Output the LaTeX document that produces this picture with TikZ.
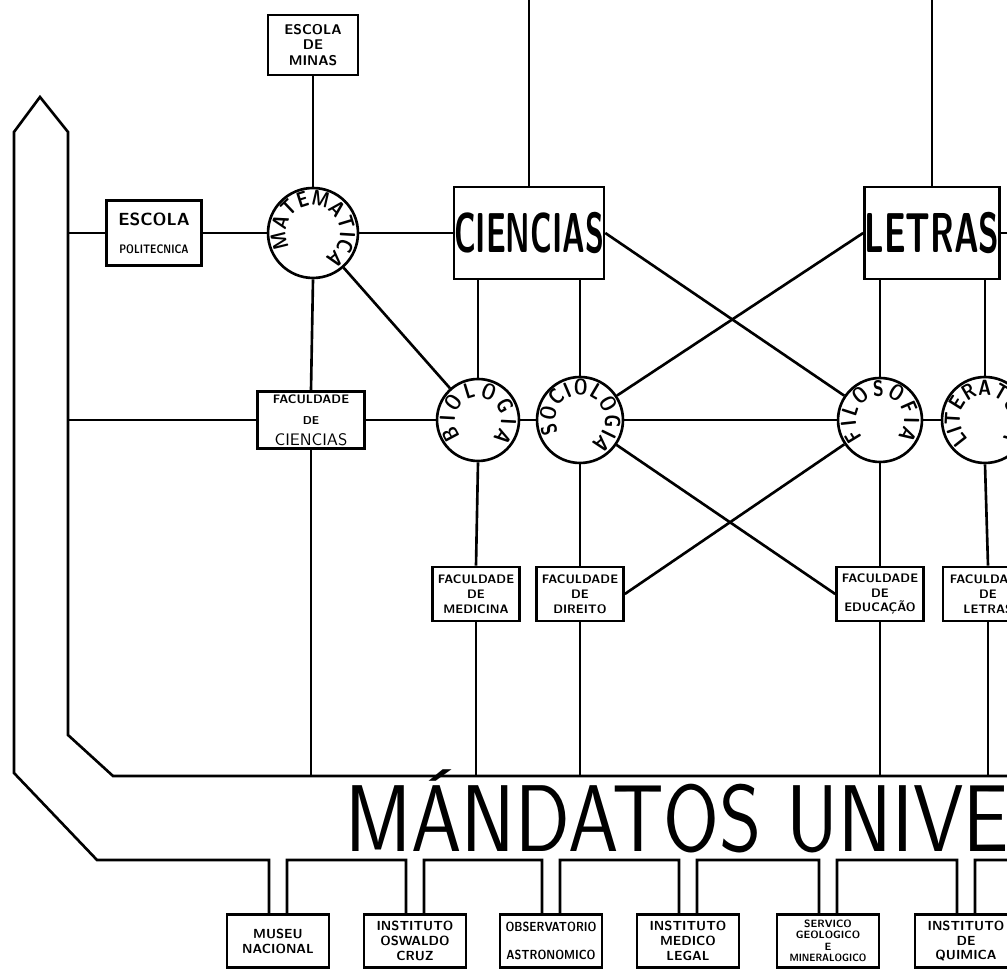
\documentclass[tikz,border=0pt]{standalone}
\usepackage{fontspec}
\usepackage{graphicx}
\usetikzlibrary{calc,decorations.text}

\newfontfamily\ringfam{lmsans10-bold.otf}[FakeStretch=0.8]
\newcommand\ringfont{\ringfam\fontsize{12.5}{12.5}\selectfont}

\begin{document}
\begin{tikzpicture}[x=0.02cm, y=0.02cm,
    link/.style={line width=1.5pt},
    inst/.style={draw, line width=1.5pt, fill=white, inner sep=1pt,
                 minimum width=2.04cm, minimum height=1.06cm, align=center,
                 font=\sffamily\bfseries\fontsize{7.5}{8.5}\selectfont},
    fac/.style={draw, line width=1.5pt, fill=white, inner sep=1pt,
                minimum width=1.74cm, minimum height=1.08cm, align=center,
                font=\sffamily\bfseries\fontsize{7}{8.5}\selectfont},
    area/.style={draw, line width=1.5pt, minimum width=2.76cm,
                 minimum height=1.84cm, inner sep=0pt,
                 font=\sffamily\bfseries\fontsize{32}{32}\selectfont},
    subject/.style={draw, circle, line width=1.5pt, inner sep=0pt},
    ring/.style={decorate, decoration={text along path, text align={fit to path}}},
]
\useasboundingbox (0,0) rectangle (1007,970);
\clip (0,0) rectangle (1007,970);

% === Helper points ===
\coordinate (top) at (0,970);
\coordinate (redge) at (1012,0);
\coordinate (leftbar) at (68,500);
\coordinate (bandtop) at (113,194);

% === Upper row ===
\node[draw, line width=1.5pt, minimum width=1.8cm, minimum height=1.2cm, align=center,
      font=\sffamily\bfseries\fontsize{8}{9}\selectfont] (minas) at (313,925) {ESCOLA\\DE\\MINAS};
\node[draw, line width=1.5pt, minimum width=1.9cm, minimum height=1.3cm, align=center,
      inner sep=1pt] (poli) at (154,737)
  {\sffamily\bfseries\fontsize{10}{12}\selectfont ESCOLA\\[4pt]
   \sffamily\bfseries\fontsize{7}{7}\selectfont\scalebox{0.8}[1]{POLITECNICA}};
\node[subject, minimum size=1.8cm] (mat) at (313,737) {};
\node[area] (cien) at (529,737) {\scalebox{0.55}[1]{CIENCIAS}};
\node[area, minimum width=2.7cm] (letras) at (932,737) {\scalebox{0.6}[1]{LETRAS}};

% === Middle row ===
\node[draw, line width=1.5pt, minimum width=2.14cm, minimum height=1.14cm, align=center,
      inner sep=1pt] (facc) at (311,550)
  {\sffamily\bfseries\fontsize{7}{8}\selectfont FACULDADE\\
   \sffamily\bfseries\fontsize{6.5}{7}\selectfont DE\\
   \sffamily\fontsize{9.5}{10.5}\selectfont CIENCIAS};
\node[subject, minimum size=1.64cm] (bio) at (478,550) {};
\node[subject, minimum size=1.72cm] (soc) at (580,550) {};
\node[subject, minimum size=1.68cm] (filo) at (880,550) {};
\node[subject, minimum size=1.72cm] (lit) at (985,550) {};

% === Words round the circles ===
\path[ring, decoration={text={|\ringfont|MATEMATICA}}]
  (mat.center) ++(212:27) arc[start angle=212, end angle=-64, radius=27];
\path[ring, decoration={text={|\ringfont|BIOLOGIA}}]
  (bio.center) ++(224:23) arc[start angle=224, end angle=-50, radius=23];
\path[ring, decoration={text={|\ringfont|SOCIOLOGIA}}]
  (soc.center) ++(210:25) arc[start angle=210, end angle=-64, radius=25];
\path[ring, decoration={text={|\ringfont|FILOSOFIA}}]
  (filo.center) ++(224:24) arc[start angle=224, end angle=-44, radius=24];
\path[ring, decoration={text={|\ringfont|LITERATURA}}]
  (lit.center) ++(230:25) arc[start angle=230, end angle=-46, radius=25];

% === Faculties ===
\node[fac] (fmed) at (476,376) {FACULDADE\\DE\\MEDICINA};
\node[fac] (fdir) at (580,376) {FACULDADE\\DE\\DIREITO};
\node[fac] (fedu) at (880,376) {FACULDADE\\DE\\EDUCAÇÃO};
\node[fac, minimum width=1.8cm] (flet) at (988,376) {FACULDADE\\DE\\LETRAS};

% === Institutes ===
\node[inst] (mus) at (278,29) {MUSEU\\NACIONAL};
\node[inst] (osw) at (415,29) {INSTITUTO\\OSWALDO\\CRUZ};
\node[inst] (obs) at (551,29) {\scalebox{0.85}[1]{OBSERVATORIO}\\[7pt]\scalebox{0.85}[1]{ASTRONOMICO}};
\node[inst] (med) at (688,29) {INSTITUTO\\MEDICO\\LEGAL};
\node[inst, font=\sffamily\bfseries\fontsize{6}{6.5}\selectfont] (geo) at (828,29)
  {SERVICO\\GEOLOGICO\\E\\\scalebox{0.9}[1]{MINERALOGICO}};
\node[inst] (qui) at (966,29) {INSTITUTO\\DE\\QUIMICA};

% === Band ===
\draw[link] (1012,194) -- (bandtop) -- (68,235) -- (68,838) -- (40,873)
  -- (14,838) -- (14,197) -- (97,110)
  \foreach \x in {278,415,551,688,828,966} {
    -- (\x-9,110) -- (\x-9,55.5) (\x+9,55.5) -- (\x+9,110) }
  -- (1012,110);
\node[anchor=base west, inner sep=0pt, font=\sffamily\fontsize{54}{54}\selectfont]
  (mandatos) at (345,118) {\scalebox{0.85}[1]{MÁNDATOS UNIVERSITÁRIOS}};

% === Connectors ===
\draw[link] (cien.north) -- (cien.north |- top);
\draw[link] (letras.north) -- (letras.north |- top);
\draw[link] (letras.east) -- (letras.east -| redge);
\draw[link] (minas.south) -- (mat.north);
\draw[link] (poli.west -| leftbar) -- (poli.west);
\draw[link] (poli.east) -- (mat.west);
\draw[link] (mat.east) -- (cien.west);
\draw[link] (mat.south) -- (facc.north);
\draw[link] (mat) -- (bio);
\draw[link] (bio.north) -- (bio.north |- cien.south);
\draw[link] (soc.north) -- (soc.north |- cien.south);
\draw[link] (filo.north) -- (filo.north |- letras.south);
\draw[link] (lit.north) -- (lit.north |- letras.south);
\draw[link] (cien.east) -- (filo);
\draw[link] (letras.west) -- (soc);
\draw[link] (facc.west -| leftbar) -- (facc.west);
\draw[link] (facc.east) -- (bio.west);
\draw[link] (bio.east) -- (soc.west);
\draw[link] (soc.east) -- (filo.west);
\draw[link] (filo.east) -- (lit.west);
\draw[link] (bio.south) -- (fmed.north);
\draw[link] (soc.south) -- (fdir.north);
\draw[link] (filo.south) -- (fedu.north);
\draw[link] (lit.south) -- (flet.north);
\draw[link] (soc) -- (fedu.west);
\draw[link] (fdir.east) -- (filo);
\foreach \f in {facc,fmed,fdir,fedu,flet}
  \draw[link] (\f.south) -- (\f.south |- bandtop);

\end{tikzpicture}
\end{document}
